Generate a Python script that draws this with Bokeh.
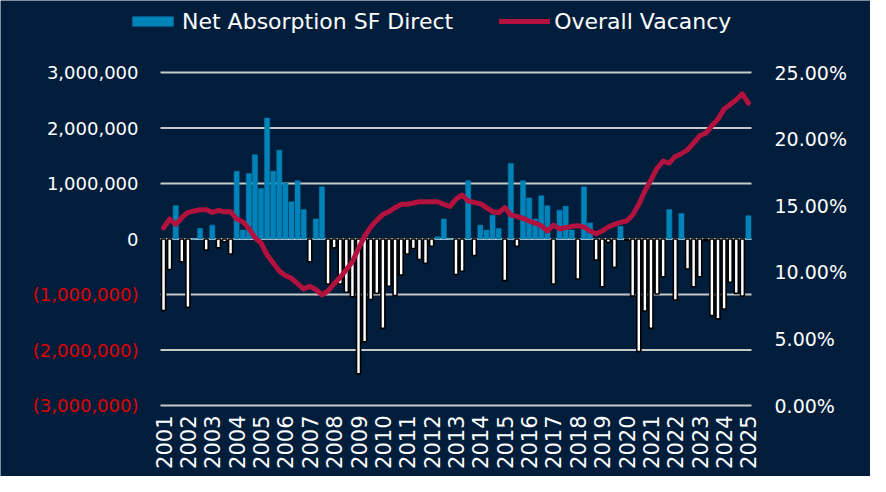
import math
from bokeh.plotting import figure
from bokeh.models import Range1d, Legend, LegendItem, ColumnDataSource
from bokeh.core.properties import value
from bokeh.embed import file_html
from bokeh.resources import INLINE

# ---------------- data ----------------
years = [str(y) for y in range(2001, 2026)]
quarters = [f"{y} Q{q}" for y in range(2001, 2026) for q in range(1, 5)][:97]

absorption = [
    -1290000, -550000, 600000, -410000, -1230000, 0, 190000, -200000,
    250000, -160000, -50000, -270000, 1220000, 160000, 1180000, 1520000,
    910000, 2180000, 1220000, 1600000, 1010000, 670000, 1050000, 530000,
    -410000, 360000, 940000, -810000, -160000, -810000, -960000, -1040000,
    -2430000, -1850000, -1090000, -980000, -1610000, -850000, -1020000, -650000,
    -270000, -170000, -370000, -440000, -130000, 40000, 360000, 0,
    -640000, -580000, 1050000, -300000, 250000, 160000, 430000, 190000,
    -750000, 1360000, -130000, 1050000, 740000, 360000, 780000, 600000,
    -810000, 520000, 590000, 160000, -720000, 940000, 290000, -380000,
    -860000, -60000, -510000, 230000, -20000, -1030000, -2030000, -1300000,
    -1610000, -990000, -680000, 530000, -1100000, 460000, -540000, -860000,
    -680000, -30000, -1380000, -1440000, -1260000, -780000, -980000, -1030000,
    420000,
]

vacancy_pct = [
    13.33, 14.0, 13.6, 14.1, 14.5, 14.6, 14.7, 14.7,
    14.5, 14.65, 14.55, 14.55, 14.0, 13.8, 13.3, 12.6,
    12.2, 11.3, 10.7, 10.1, 9.75, 9.55, 9.15, 8.74,
    8.95, 8.7, 8.3, 8.6, 9.14, 9.63, 10.2, 10.8,
    11.8, 12.7, 13.4, 13.9, 14.35, 14.55, 14.85, 15.1,
    15.1, 15.2, 15.3, 15.3, 15.3, 15.3, 15.1, 14.95,
    15.5, 15.8, 15.35, 15.25, 15.15, 14.85, 14.55, 14.47,
    14.86, 14.3, 14.2, 14.05, 13.85, 13.7, 13.5, 13.1,
    13.55, 13.25, 13.35, 13.45, 13.5, 13.4, 13.1, 12.9,
    13.1, 13.4, 13.6, 13.75, 13.85, 14.3, 15.1, 16.1,
    16.95, 17.8, 18.35, 18.2, 18.7, 18.9, 19.2, 19.7,
    20.25, 20.45, 21.0, 21.5, 22.25, 22.6, 22.95, 23.4,
    22.7,
]

left_ticks = [-3000000, -2000000, -1000000, 0, 1000000, 2000000, 3000000]
left_labels = ["(3,000,000)", "(2,000,000)", "(1,000,000)", "0",
               "1,000,000", "2,000,000", "3,000,000"]
right_ticks = [0.0, 0.05, 0.10, 0.15, 0.20, 0.25]
right_labels = ["0.00%", "5.00%", "10.00%", "15.00%", "20.00%", "25.00%"]

# ---------------- layout (pixels) ----------------
W, H = 870, 476
PL, PR, PT, PB = 160, 751, 72, 405      # plot area edges in figure pixels
NQ = len(quarters)
ux = NQ / (PR - PL)                       # x data units per pixel
uy = 6000000 / (PB - PT)                  # left-axis units per pixel
uv = 0.25 / (PB - PT)                     # right-axis units per pixel

BG = "#001E3C"
BLUE = "#0083B8"
RED = "#B3123E"
GRID = "#C8C8C8"
NEG_RED = "#E00000"
FONT = "DejaVu Sans"

p = figure(width=W, height=H, output_backend="svg", toolbar_location=None,
           x_axis_type=None, y_axis_type=None,
           x_range=Range1d(-0.5 - PL * ux, NQ - 0.5 + (W - PR) * ux),
           y_range=Range1d(-3000000 - (H - PB) * uy, 3000000 + PT * uy),
           min_border=0)
p.extra_y_ranges = {"vac": Range1d(-(H - PB) * uv, 0.25 + PT * uv)}
p.background_fill_color = BG
p.border_fill_color = BG
p.outline_line_color = None
p.xgrid.visible = False
p.ygrid.visible = False

# gridlines
p.segment(x0=-0.5, x1=NQ - 0.5, y0=left_ticks, y1=left_ticks,
          line_color=GRID, line_width=2)

# bars
idx = list(range(NQ))
pos_src = ColumnDataSource(dict(
    x=[i for i, v in zip(idx, absorption) if v >= 0],
    top=[v for v in absorption if v >= 0]))
neg_src = ColumnDataSource(dict(
    x=[i for i, v in zip(idx, absorption) if v < 0],
    top=[v for v in absorption if v < 0]))
pos_r = p.vbar(x="x", top="top", bottom=0, width=0.84, source=pos_src,
               fill_color=BLUE, line_color=BLUE, line_width=0.5)
p.vbar(x="x", top="top", bottom=0, width=0.66, source=neg_src,
       fill_color="white", line_color="black", line_width=1.6)

# vacancy line
vac_src = ColumnDataSource(dict(x=idx, y=[v / 100 for v in vacancy_pct]))
line_r = p.line(x="x", y="y", source=vac_src, y_range_name="vac",
                line_color=RED, line_width=5, line_join="round", line_cap="round")

# left tick labels
left_src = ColumnDataSource(dict(
    y=left_ticks, text=left_labels,
    color=[NEG_RED if t < 0 else "white" for t in left_ticks]))
p.text(x=-0.5 - 22 * ux, y="y", text="text", source=left_src,
       text_color="color", text_align="right", text_baseline="middle",
       text_font=value(FONT), text_font_size="18px")

# right tick labels
right_src = ColumnDataSource(dict(y=right_ticks, text=right_labels))
p.text(x=NQ - 0.5 + 23 * ux, y="y", text="text", source=right_src,
       y_range_name="vac", text_color="white", text_align="left",
       text_baseline="middle", text_font=value(FONT), text_font_size="19px")

# x tick labels (one per year, at Q1)
x_src = ColumnDataSource(dict(x=[i * 4 for i in range(len(years))], text=years))
p.text(x="x", y=-3000000 - 10 * uy, text="text", source=x_src,
       angle=math.pi / 2, text_color="white", text_align="right",
       text_baseline="middle", text_font=value(FONT), text_font_size="21px")

# legend
legend = Legend(items=[LegendItem(label="Net Absorption SF Direct", renderers=[pos_r]),
                       LegendItem(label="Overall Vacancy", renderers=[line_r])],
                location=(127, 441), orientation="horizontal",
                glyph_width=51, glyph_height=12, label_standoff=4, spacing=46,
                padding=0, margin=0, label_height=28,
                label_text_color="white", label_text_font=FONT,
                label_text_font_size="22px",
                border_line_color=None, background_fill_alpha=0)
p.add_layout(legend)

open("out.html", "w").write(file_html(p, INLINE))
